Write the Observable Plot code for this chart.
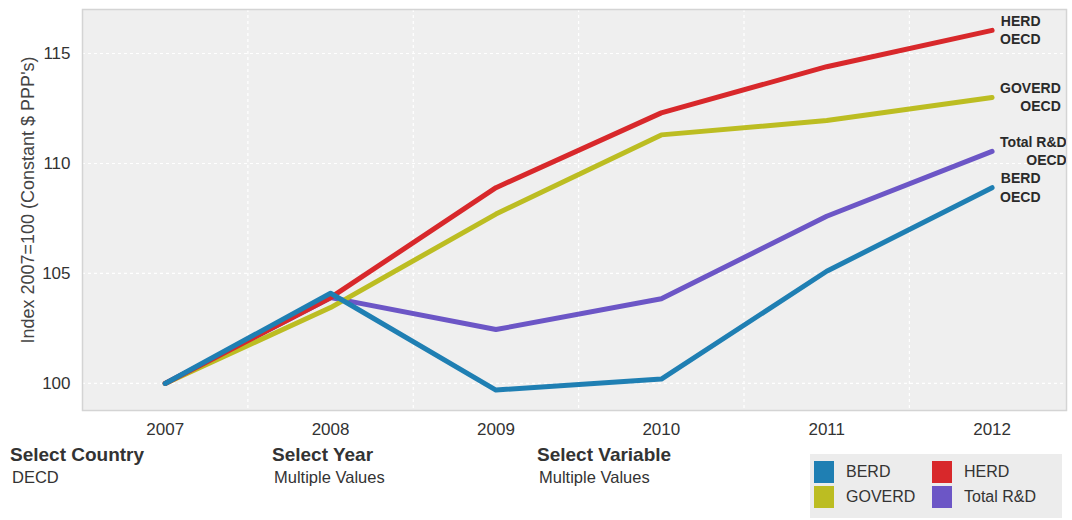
<!DOCTYPE html>
<html>
<head>
<meta charset="utf-8">
<script src="https://cdn.jsdelivr.net/npm/d3@7"></script>
<script src="https://cdn.jsdelivr.net/npm/@observablehq/plot@0.6"></script>
<style>
  html, body { margin: 0; padding: 0; background: #fff; }
  #wrap { position: relative; width: 1072px; height: 520px; font-family: Arial, "Liberation Sans", sans-serif; color: #333; overflow: hidden; }
  .ctl { position: absolute; }
  .ctl .t { font-size: 19px; font-weight: bold; color: #333; line-height: 22px; }
  .ctl .v { font-size: 16.5px; color: #333; line-height: 22px; margin-left: 2px; }
  #legend { position: absolute; left: 810px; top: 454px; width: 252px; height: 64px; background: #ececec; }
  .li { position: absolute; font-size: 16px; color: #333; display: flex; align-items: center; }
  .sw { width: 20px; height: 22px; margin-right: 12px; }
</style>
</head>
<body>
<div id="wrap">
  <div id="chart"></div>
  <div id="controls"></div>
  <div id="legend"></div>
</div>
<script>
const years = [2007, 2008, 2009, 2010, 2011, 2012];
const berd = [100, 104.1, 99.7, 100.2, 105.1, 108.9];
const goverd = [100, 103.45, 107.7, 111.3, 111.95, 113.0];
const herd = [100, 103.9, 108.9, 112.3, 114.4, 116.05];
const totalRD = [100, 103.9, 102.45, 103.85, 107.6, 110.55];
const seriesNames = ["BERD", "GOVERD", "HERD", "Total R&D"];
const seriesColors = ["#1f7fb3", "#bcbd22", "#d8282b", "#6c56c6"];
const country = "OECD";
const yTicks = [100, 105, 110, 115];
const yLabel = "Index 2007=100 (Constant $ PPP's)";
const controls = [
  {title: "Select Country", value: "DECD"},
  {title: "Select Year", value: "Multiple Values"},
  {title: "Select Variable", value: "Multiple Values"}
];

const valuesByName = {"BERD": berd, "GOVERD": goverd, "HERD": herd, "Total R&D": totalRD};
const drawOrder = ["Total R&D", "GOVERD", "HERD", "BERD"];
const data = [];
drawOrder.forEach(name => years.forEach((yr, i) => data.push({series: name, year: yr, value: valuesByName[name][i]})));

const font = 'Arial, "Liberation Sans", sans-serif';
const ctx = document.createElement("canvas").getContext("2d");
ctx.font = `bold 14px ${font}`;
const measure = s => ctx.measureText(s).width;

const labelMarks = drawOrder.map(name => {
  const last = data.filter(d => d.series === name).slice(-1);
  const w = Math.max(measure(name), measure(country));
  return Plot.text(last, {
    x: "year", y: "value", text: d => `${d.series}\n${country}`,
    textAnchor: "end", lineAnchor: "middle", lineHeight: 1.3,
    dx: 8 + w, dy: -1, fontSize: 14, fontWeight: "bold", fill: "#2a2a2a", clip: true
  });
});

const chart = Plot.plot({
  width: 1072, height: 440,
  marginLeft: 82, marginRight: 6, marginTop: 9, marginBottom: 30,
  style: {fontFamily: font, fontSize: "17px", color: "#333", background: "white"},
  x: {type: "linear", domain: [2006.5, 2012.45]},
  y: {domain: [98.77, 117]},
  color: {domain: seriesNames, range: seriesColors},
  marks: [
    Plot.frame({fill: "#efefef", stroke: null}),
    Plot.gridX(years.slice(1).map(y => y - 0.5), {stroke: "white", strokeOpacity: 1, strokeDasharray: "3,3", strokeWidth: 1.2}),
    Plot.gridY(yTicks, {stroke: "white", strokeOpacity: 1, strokeDasharray: "3,3", strokeWidth: 1.2}),
    Plot.frame({stroke: "#d4d4d4", strokeWidth: 1.5}),
    Plot.axisX(years, {tickSize: 0, tickPadding: 12, tickFormat: d => String(d), label: null, fontSize: 17}),
    Plot.axisY(yTicks, {tickSize: 0, tickPadding: 12, label: null, fontSize: 17}),
    Plot.text([yLabel], {frameAnchor: "left", textAnchor: "middle", lineAnchor: "middle", rotate: -90, dx: -54, dy: -10, fontSize: 18, fill: "#444", text: d => d}),
    Plot.line(data, {x: "year", y: "value", z: "series", stroke: "series", strokeWidth: 5, strokeLinejoin: "round", strokeLinecap: "round"}),
    ...labelMarks
  ]
});
document.getElementById("chart").appendChild(chart);

const ctlLeft = [10, 272, 537];
const cdiv = document.getElementById("controls");
controls.forEach((c, i) => {
  const el = document.createElement("div");
  el.className = "ctl";
  el.style.left = ctlLeft[i] + "px";
  el.style.top = "444px";
  el.innerHTML = `<div class="t"></div><div class="v"></div>`;
  el.querySelector(".t").textContent = c.title;
  el.querySelector(".v").textContent = c.value;
  cdiv.appendChild(el);
});

const legendOrder = ["BERD", "HERD", "GOVERD", "Total R&D"];
const lg = document.getElementById("legend");
legendOrder.forEach((name, i) => {
  const el = document.createElement("div");
  el.className = "li";
  el.style.left = (i % 2 === 0 ? 4 : 122) + "px";
  el.style.top = (i < 2 ? 7 : 32) + "px";
  const sw = document.createElement("div");
  sw.className = "sw";
  sw.style.background = seriesColors[seriesNames.indexOf(name)];
  const tx = document.createElement("span");
  tx.textContent = name;
  el.appendChild(sw); el.appendChild(tx);
  lg.appendChild(el);
});
</script>
</body>
</html>
